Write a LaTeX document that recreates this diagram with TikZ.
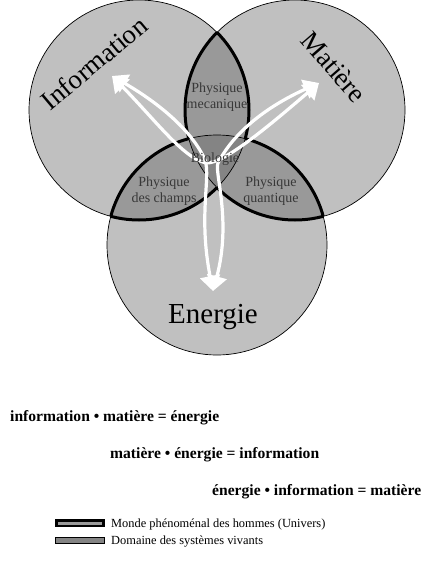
\documentclass[tikz,border=0pt]{standalone}
\usepackage{fontspec}
\setmainfont{Liberation Serif}
\usetikzlibrary{arrows.meta}
\definecolor{circfill}{RGB}{192,192,192}
\definecolor{lensfill}{RGB}{153,153,153}
\definecolor{biofill}{RGB}{132,132,132}
\definecolor{labgray}{RGB}{56,56,56}
\begin{document}
\begin{tikzpicture}[x=1pt,y=-1pt,
  bigword/.style={font=\fontsize{27}{30}\selectfont, inner sep=0pt},
  zonelabel/.style={font=\fontsize{14}{16}\selectfont, text=labgray, align=center, inner sep=0pt},
  eqline/.style={font=\bfseries\fontsize{15.6}{18}\selectfont, anchor=base west, inner sep=0pt},
  legtext/.style={font=\fontsize{12.4}{14}\selectfont, anchor=base west, inner sep=0pt},
  flow/.style={white, line width=3.2pt, arrows={Triangle[width=20pt,length=15pt]-Triangle[width=20pt,length=15pt]}},
  thinring/.style={black, line width=0.7pt},
  thickedge/.style={black, line width=3pt},
]
\fill[white] (0,0) rectangle (429,580);
\useasboundingbox (0,0) rectangle (429,580);

\coordinate (cI) at (139,110);
\coordinate (cM) at (295,110);
\coordinate (cE) at (217,245);

% base discs
\fill[circfill] (cI) circle[radius=110pt];
\fill[circfill] (cM) circle[radius=110pt];
\fill[circfill] (cE) circle[radius=110pt];

% pairwise lenses
\begin{scope}
  \clip (cI) circle[radius=110pt];
  \fill[lensfill] (cM) circle[radius=110pt];
  \fill[lensfill] (cE) circle[radius=110pt];
\end{scope}
\begin{scope}
  \clip (cM) circle[radius=110pt];
  \fill[lensfill] (cE) circle[radius=110pt];
\end{scope}
% triple region
\begin{scope}
  \clip (cI) circle[radius=110pt];
  \clip (cM) circle[radius=110pt];
  \fill[biofill] (cE) circle[radius=110pt];
\end{scope}

% thin circle outlines
\draw[thinring] (cI) circle[radius=110pt];
\draw[thinring] (cM) circle[radius=110pt];
\draw[thinring] (cE) circle[radius=110pt];

% thick outline of the lenses (outside the triple region)
\begin{scope}[even odd rule]
  \clip (-20,-20) rectangle (450,600) (cE) circle[radius=110pt];
  \begin{scope}\clip (cI) circle[radius=110pt]; \draw[thickedge] (cM) circle[radius=110pt];\end{scope}
  \begin{scope}\clip (cM) circle[radius=110pt]; \draw[thickedge] (cI) circle[radius=110pt];\end{scope}
\end{scope}
\begin{scope}[even odd rule]
  \clip (-20,-20) rectangle (450,600) (cM) circle[radius=110pt];
  \begin{scope}\clip (cI) circle[radius=110pt]; \draw[thickedge] (cE) circle[radius=110pt];\end{scope}
  \begin{scope}\clip (cE) circle[radius=110pt]; \draw[thickedge] (cI) circle[radius=110pt];\end{scope}
\end{scope}
\begin{scope}[even odd rule]
  \clip (-20,-20) rectangle (450,600) (cI) circle[radius=110pt];
  \begin{scope}\clip (cM) circle[radius=110pt]; \draw[thickedge] (cE) circle[radius=110pt];\end{scope}
  \begin{scope}\clip (cE) circle[radius=110pt]; \draw[thickedge] (cM) circle[radius=110pt];\end{scope}
\end{scope}

% big words
\node[bigword, rotate=40] (tInfo) at (94,63) {Information};
\node[bigword, rotate=-49] (tMat) at (334,67) {Matière};
\node[bigword, anchor=base, font=\fontsize{29}{32}\selectfont] (tEn) at (213,323) {Energie};

% zone labels
\node[zonelabel] (zMec) at (217,97) {Physique\\mecanique};
\node[zonelabel] (zCha) at (164,191) {Physique\\des champs};
\node[zonelabel] (zQua) at (271,191) {Physique\\quantique};

% white arrows
\coordinate (iTip) at (112,76);
\coordinate (mTip) at (319,83);
\coordinate (eTip) at (213,291);
\coordinate (bIM) at (207,163);
\coordinate (bIE) at (205,160);
\coordinate (bME) at (218,163);
\draw[flow] (iTip) .. controls (157,122) and (185,160) .. (bIM) .. controls (225,163) and (270,125) .. (mTip);
\draw[flow] (iTip) .. controls (157,102) and (192,130) .. (bIE) .. controls (211,178) and (198,215) .. (eTip);
\draw[flow] (mTip) .. controls (270,105) and (235,130) .. (bME) .. controls (214,172) and (232,220) .. (eTip);

\node[zonelabel, anchor=base] (zBio) at (215,162) {Biologie};

% equations
\node[eqline] (eq1) at (10,421) {information • matière = énergie};
\node[eqline] (eq2) at (110,458) {matière • énergie = information};
\node[eqline] (eq3) at (212,495) {énergie • information = matière};

% legend
\node[draw=black, line width=2.7pt, fill=lensfill, minimum width=47.5pt, minimum height=5.5pt, inner sep=0pt] (lg1) at (80,523.3) {};
\node[draw=black, line width=0.6pt, fill=biofill, minimum width=49.4pt, minimum height=6.1pt, inner sep=0pt] (lg2) at (80,540) {};
\node[legtext] (lt1) at (111,527) {Monde phénoménal des hommes (Univers)};
\node[legtext] (lt2) at (111,544) {Domaine des systèmes vivants};
\end{tikzpicture}
\end{document}
